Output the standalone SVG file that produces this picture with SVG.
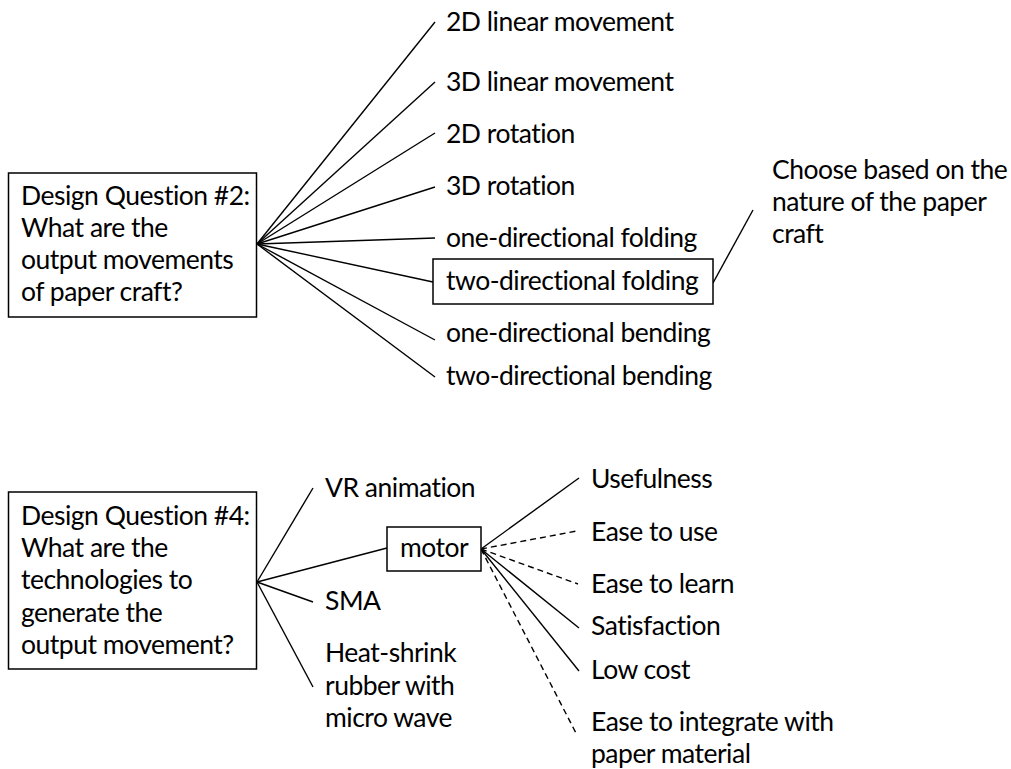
<svg xmlns="http://www.w3.org/2000/svg" width="1011" height="769" viewBox="0 0 1011 769">
  <style>
    text { font-family: Lato, "Open Sans", "Liberation Sans", sans-serif; font-size: 26.5px; letter-spacing: -0.5px; fill: #000; }
    .box { fill: #fff; stroke: #000; stroke-width: 1.5; }
    .link { stroke: #000; stroke-width: 1.4; fill: none; }
    .dash { stroke-dasharray: 6 4; }
  </style>
  <rect width="1011" height="769" fill="#fff"/>

  <!-- connectors -->
  <g id="connectors">
    <!-- question 2 fan -->
    <line class="link" x1="257" y1="244" x2="435" y2="22"/>
    <line class="link" x1="257" y1="244" x2="435" y2="82"/>
    <line class="link" x1="257" y1="244" x2="435" y2="133"/>
    <line class="link" x1="257" y1="244" x2="435" y2="187"/>
    <line class="link" x1="257" y1="244" x2="435" y2="238"/>
    <line class="link" x1="257" y1="244" x2="433" y2="282"/>
    <line class="link" x1="257" y1="244" x2="435" y2="340"/>
    <line class="link" x1="257" y1="244" x2="435" y2="377"/>
    <line class="link" x1="713" y1="283" x2="753" y2="210"/>
    <!-- question 4 fan -->
    <line class="link" x1="257" y1="582" x2="313" y2="488"/>
    <line class="link" x1="257" y1="582" x2="387" y2="548"/>
    <line class="link" x1="257" y1="582" x2="313" y2="602"/>
    <line class="link" x1="257" y1="582" x2="313" y2="687"/>
    <!-- motor criteria -->
    <line class="link" x1="481" y1="549" x2="579" y2="478"/>
    <line class="link dash" x1="481" y1="549" x2="577" y2="531"/>
    <line class="link dash" x1="481" y1="549" x2="578" y2="584"/>
    <line class="link" x1="481" y1="549" x2="579" y2="628"/>
    <line class="link" x1="481" y1="549" x2="579" y2="671"/>
    <line class="link dash" x1="481" y1="549" x2="577" y2="735"/>
  </g>

  <g id="q2">
    <rect class="box" x="8.5" y="173" width="248" height="144"/>
    <text x="21" y="205">Design Question #2:</text>
    <text x="21" y="237">What are the</text>
    <text x="21" y="269">output movements</text>
    <text x="21" y="301">of paper craft?</text>
  </g>
  <g id="m-2d-linear"><text x="446" y="31">2D linear movement</text></g>
  <g id="m-3d-linear"><text x="446" y="91">3D linear movement</text></g>
  <g id="m-2d-rotation"><text x="446" y="143">2D rotation</text></g>
  <g id="m-3d-rotation"><text x="446" y="195">3D rotation</text></g>
  <g id="m-one-fold"><text x="446" y="247">one-directional folding</text></g>
  <g id="m-two-fold">
    <rect class="box" x="433" y="259" width="280" height="45"/>
    <text x="446" y="290">two-directional folding</text>
  </g>
  <g id="m-one-bend"><text x="446" y="342">one-directional bending</text></g>
  <g id="m-two-bend"><text x="446" y="385">two-directional bending</text></g>
  <g id="note">
    <text x="772" y="179">Choose based on the</text>
    <text x="772" y="211">nature of the paper</text>
    <text x="772" y="243">craft</text>
  </g>

  <g id="q4">
    <rect class="box" x="8.5" y="492" width="248" height="177"/>
    <text x="21" y="525">Design Question #4:</text>
    <text x="21" y="557">What are the</text>
    <text x="21" y="589">technologies to</text>
    <text x="21" y="622">generate the</text>
    <text x="21" y="654">output movement?</text>
  </g>
  <g id="t-vr"><text x="325" y="497">VR animation</text></g>
  <g id="t-motor">
    <rect class="box" x="387" y="527" width="94" height="44"/>
    <text x="400" y="557">motor</text>
  </g>
  <g id="t-sma"><text x="325" y="610">SMA</text></g>
  <g id="t-heat">
    <text x="325" y="662">Heat-shrink</text>
    <text x="325" y="695">rubber with</text>
    <text x="325" y="727">micro wave</text>
  </g>
  <g id="c-usefulness"><text x="591" y="488">Usefulness</text></g>
  <g id="c-ease-use"><text x="591" y="541">Ease to use</text></g>
  <g id="c-ease-learn"><text x="591" y="593">Ease to learn</text></g>
  <g id="c-satisfaction"><text x="591" y="635">Satisfaction</text></g>
  <g id="c-low-cost"><text x="591" y="679">Low cost</text></g>
  <g id="c-integrate">
    <text x="591" y="731">Ease to integrate with</text>
    <text x="591" y="763">paper material</text>
  </g>
</svg>
